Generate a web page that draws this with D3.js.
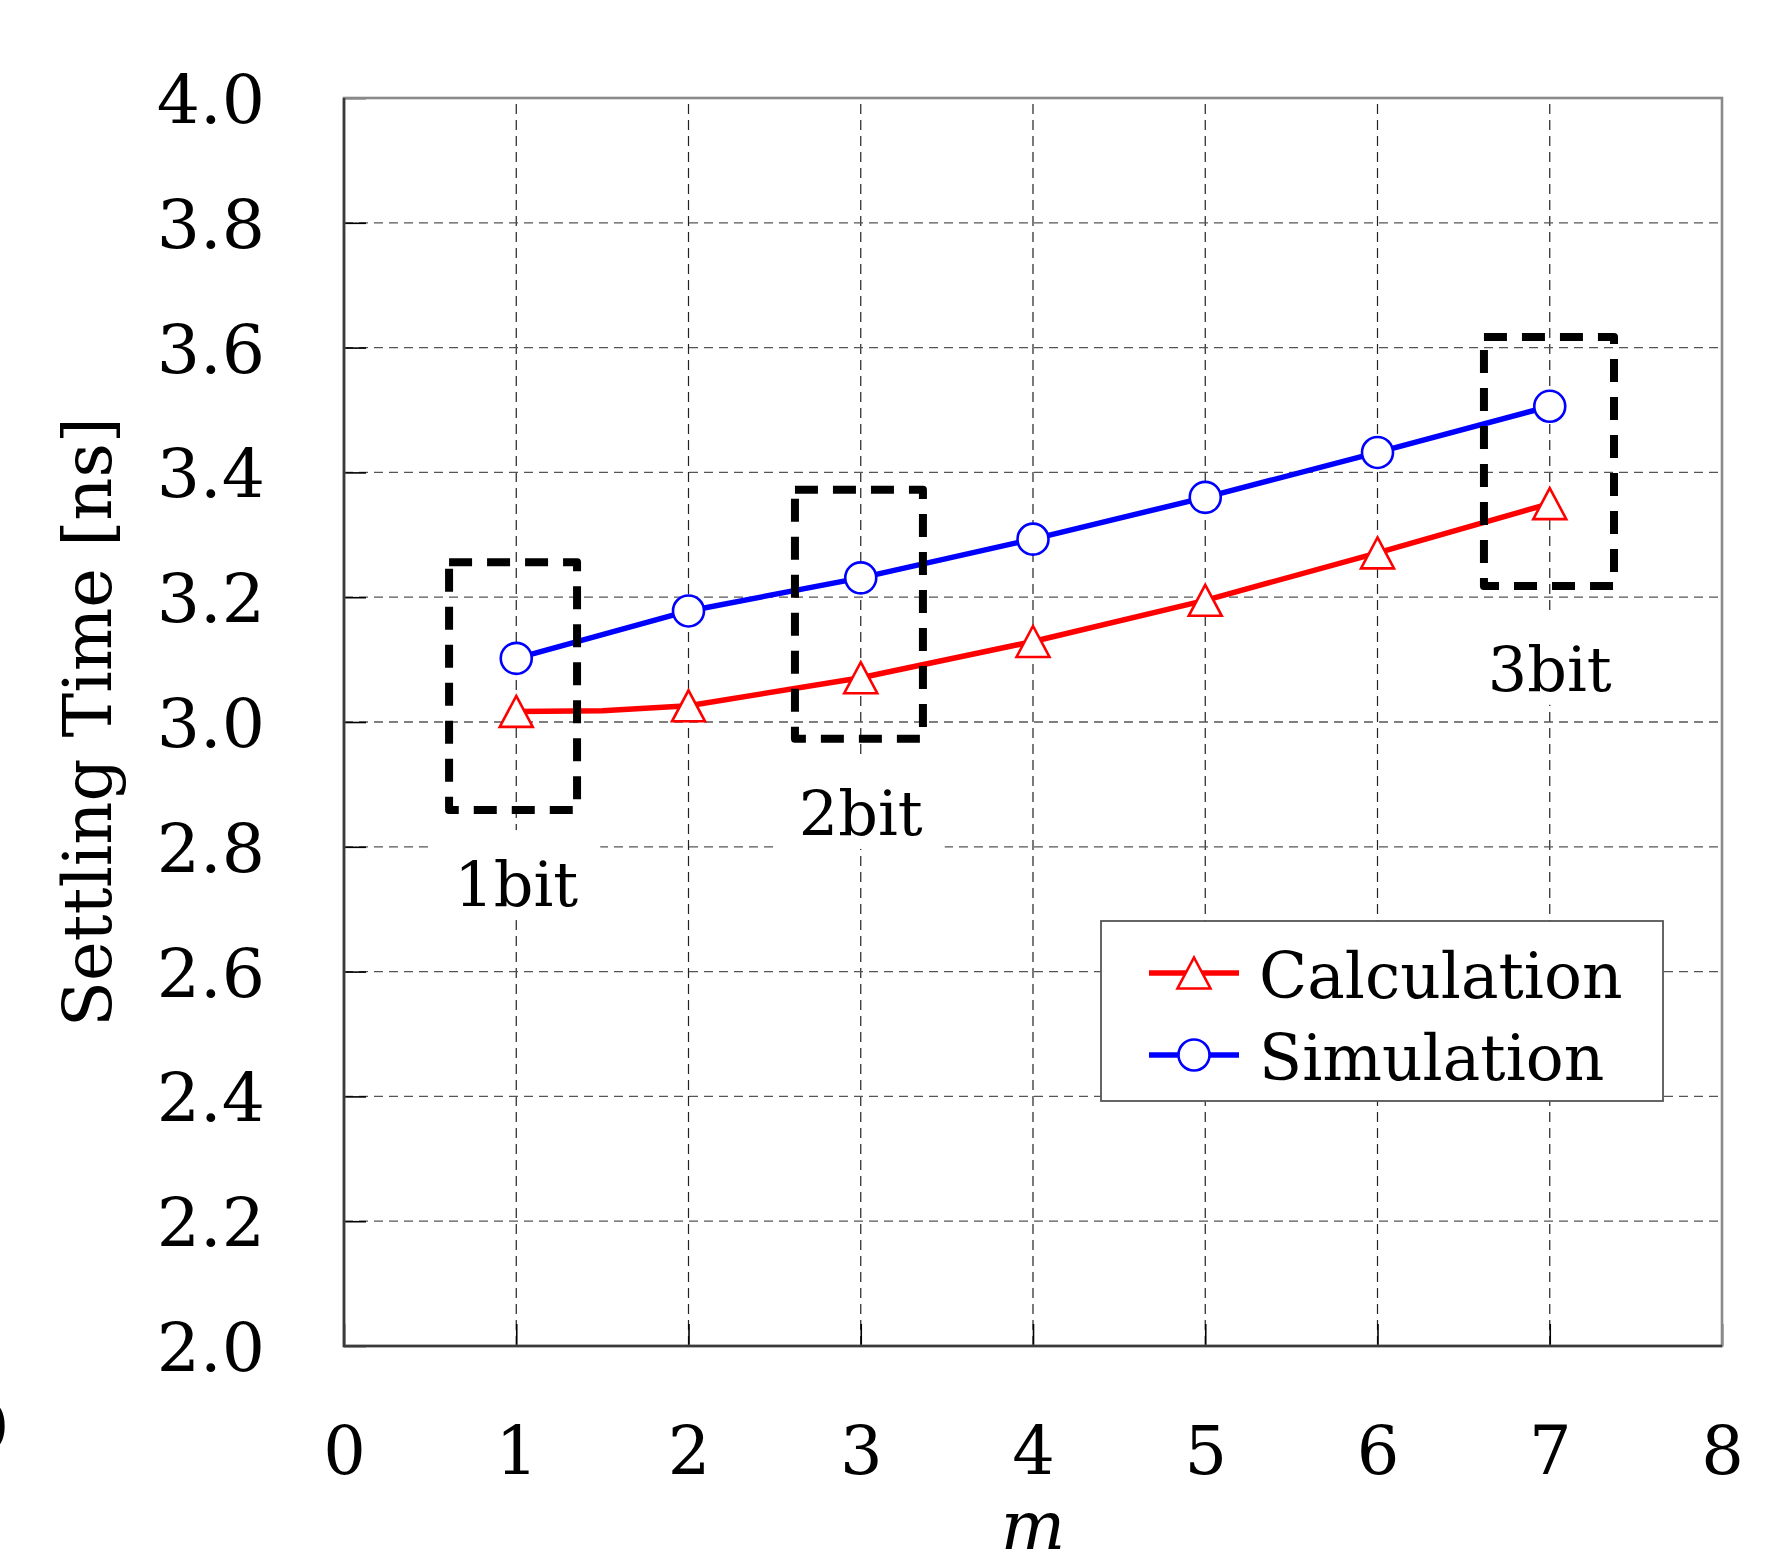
<!DOCTYPE html>
<html>
<head>
<meta charset="utf-8">
<script src="https://cdn.jsdelivr.net/npm/d3@7"></script>
<style>
  html, body { margin: 0; padding: 0; background: #fff; }
  svg { display: block; }
  text { font-family: "DejaVu Serif", serif; fill: #000; }
</style>
</head>
<body>
<script>
// ---------------- data ----------------
const xTickValues = [0, 1, 2, 3, 4, 5, 6, 7, 8];
const yTickValues = [2.0, 2.2, 2.4, 2.6, 2.8, 3.0, 3.2, 3.4, 3.6, 3.8, 4.0];

const mValues = [1, 2, 3, 4, 5, 6, 7];
const calculationValues = [3.017, 3.026, 3.071, 3.129, 3.195, 3.271, 3.350];
const simulationValues  = [3.102, 3.178, 3.231, 3.293, 3.360, 3.432, 3.506];

// calculation curve (includes the flat piece up to m = 1.5)
const calculationLineM      = [1, 1.5, 2, 3, 4, 5, 6, 7];
const calculationLineValues = [3.017, 3.018, 3.026, 3.071, 3.129, 3.195, 3.271, 3.350];

const seriesNames = ["Calculation", "Simulation"];

const bitLabels  = ["1bit", "2bit", "3bit"];
const bitLabelM  = [1, 3, 7];
const bitLabelV  = [2.705, 2.819, 3.050];
const boxMFrom   = [0.61, 2.618, 6.618];
const boxMTo     = [1.353, 3.361, 7.373];
const boxVFrom   = [2.859, 2.973, 3.218];
const boxVTo     = [3.256, 3.372, 3.617];

// ---------------- drawing ----------------
const W = 1770, H = 1566;
const svg = d3.select("body").append("svg").attr("width", W).attr("height", H);

const x = d3.scaleLinear().domain([0, 8]).range([344, 1722]);
const y = d3.scaleLinear().domain([2, 4]).range([1346, 98]);

// grid
const grid = svg.append("g");
grid.selectAll("line.v").data(xTickValues.slice(1, -1)).join("line")
  .attr("x1", d => x(d)).attr("x2", d => x(d))
  .attr("y1", y(2)).attr("y2", y(4))
  .attr("stroke", "#222").attr("stroke-width", 1.2)
  .attr("stroke-dasharray", "10,6");
grid.selectAll("line.h").data(yTickValues.slice(1, -1)).join("line")
  .attr("x1", x(0)).attr("x2", x(8))
  .attr("y1", d => y(d)).attr("y2", d => y(d))
  .attr("stroke", "#555").attr("stroke-width", 1.3)
  .attr("stroke-dasharray", "9,6");

// axes (labels + inward ticks)
const yAxis = d3.axisLeft(y).tickValues(yTickValues).tickFormat(d3.format(".1f"))
  .tickSize(-22).tickPadding(79);
const gy = svg.append("g").attr("transform", `translate(${x(0)},0)`).call(yAxis);
gy.select(".domain").remove();
gy.selectAll(".tick line").attr("stroke", "#000").attr("stroke-width", 1.6);
gy.selectAll(".tick text").attr("font-size", 68).attr("font-family", "DejaVu Serif")
  .attr("dy", "0.36em");

const xAxis = d3.axisBottom(x).tickValues(xTickValues).tickFormat(d3.format("d"))
  .tickSize(-22).tickPadding(80);
const gx = svg.append("g").attr("transform", `translate(0,${y(2)})`).call(xAxis);
gx.select(".domain").remove();
gx.selectAll(".tick line").attr("stroke", "#000").attr("stroke-width", 1.6);
gx.selectAll(".tick text").attr("font-size", 67).attr("font-family", "DejaVu Serif");

// frame
svg.append("rect").attr("x", x(0)).attr("y", y(4))
  .attr("width", x(8) - x(0)).attr("height", y(2) - y(4))
  .attr("fill", "none").attr("stroke", "#8a8a8a").attr("stroke-width", 2.6);
svg.append("path")
  .attr("d", `M${x(0)},${y(4)}V${y(2)}H${x(8)}`)
  .attr("fill", "none").attr("stroke", "#3a3a3a").attr("stroke-width", 2.6);

// axis titles
svg.append("text").attr("x", (x(0) + x(8)) / 2).attr("y", 1549)
  .attr("text-anchor", "middle").attr("font-size", 68).attr("font-style", "italic")
  .text("m");
svg.append("text")
  .attr("transform", `translate(111,${(y(2) + y(4)) / 2}) rotate(-90)`)
  .attr("text-anchor", "middle").attr("font-size", 67)
  .text("Settling Time [ns]");

// partial label at the left edge (cut off in the original figure as well)
svg.append("text").attr("x", 9).attr("y", 1443).attr("text-anchor", "end")
  .attr("font-size", 56).text("(b)");

// series lines
const lineGen = d3.line().x(d => x(d[0])).y(d => y(d[1]));
const calcLine = calculationLineM.map((m, i) => [m, calculationLineValues[i]]);
const simLine = mValues.map((m, i) => [m, simulationValues[i]]);

svg.append("path").datum(calcLine).attr("d", lineGen)
  .attr("fill", "none").attr("stroke", "#ff0000").attr("stroke-width", 5.5)
  .attr("stroke-linejoin", "round");
svg.append("path").datum(simLine).attr("d", lineGen)
  .attr("fill", "none").attr("stroke", "#0000ff").attr("stroke-width", 5.5)
  .attr("stroke-linejoin", "round");

// markers
const triPath = (cx, cy) => `M${cx},${cy - 15.5}L${cx + 16.5},${cy + 15.5}L${cx - 16.5},${cy + 15.5}Z`;
svg.append("g").selectAll("path").data(mValues.map((m, i) => [m, calculationValues[i]])).join("path")
  .attr("d", d => triPath(x(d[0]), y(d[1])))
  .attr("fill", "#fff").attr("stroke", "#ff0000").attr("stroke-width", 2.6);
svg.append("g").selectAll("circle").data(simLine).join("circle")
  .attr("cx", d => x(d[0])).attr("cy", d => y(d[1])).attr("r", 15.5)
  .attr("fill", "#fff").attr("stroke", "#0000ff").attr("stroke-width", 2.6);

// bit labels with white backing
bitLabels.forEach((lab, i) => {
  const g = svg.append("g");
  const bg = g.append("rect");
  const t = g.append("text").attr("x", x(bitLabelM[i])).attr("y", y(bitLabelV[i]))
    .attr("text-anchor", "middle").attr("font-size", 62).text(lab);
  const bb = t.node().getBBox();
  const by = y(bitLabelV[i]);
  bg.attr("x", bb.x - 22).attr("y", by - 76).attr("width", bb.width + 44).attr("height", 90)
    .attr("fill", "#fff");
});

// dashed boxes
boxMFrom.forEach((m0, i) => {
  svg.append("rect")
    .attr("x", x(m0)).attr("y", y(boxVTo[i]))
    .attr("width", x(boxMTo[i]) - x(m0)).attr("height", y(boxVFrom[i]) - y(boxVTo[i]))
    .attr("fill", "none").attr("stroke", "#000").attr("stroke-width", 8)
    .attr("stroke-dasharray", "23,15").attr("stroke-linejoin", "round");
});

// legend
const lg = svg.append("g");
lg.append("rect").attr("x", 1101).attr("y", 921).attr("width", 562).attr("height", 180)
  .attr("fill", "#fff").attr("stroke", "#555").attr("stroke-width", 1.8);
const legendRows = [973, 1055];
seriesNames.forEach((name, i) => {
  const cy = legendRows[i];
  const col = i === 0 ? "#ff0000" : "#0000ff";
  lg.append("line").attr("x1", 1149).attr("x2", 1239).attr("y1", cy).attr("y2", cy)
    .attr("stroke", col).attr("stroke-width", 5.5);
  if (i === 0) {
    lg.append("path").attr("d", triPath(1194, cy)).attr("fill", "#fff")
      .attr("stroke", col).attr("stroke-width", 2.6);
  } else {
    lg.append("circle").attr("cx", 1194).attr("cy", cy).attr("r", 15.5).attr("fill", "#fff")
      .attr("stroke", col).attr("stroke-width", 2.6);
  }
  lg.append("text").attr("x", 1259).attr("y", cy + 25).attr("font-size", 63).text(name);
});
</script>
</body>
</html>
